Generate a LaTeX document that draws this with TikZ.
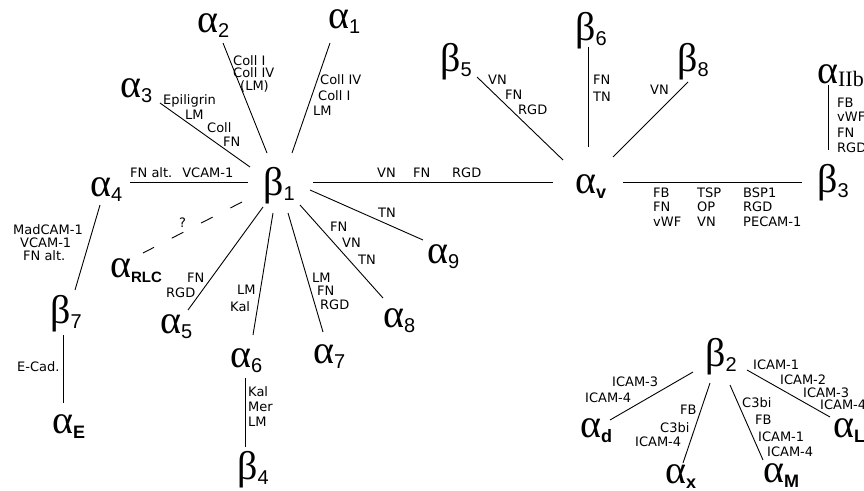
\documentclass[tikz,border=0pt]{standalone}
\usepackage{fontspec}
\newfontfamily\grfont{Liberation Serif}
\newfontfamily\subsans{Liberation Sans}
\newfontfamily\labfamily{DejaVu Sans}
% Greek letter with a plain sans subscript
\newcommand\GkN[2]{{\grfont\fontsize{40}{40}\selectfont #1}\raisebox{-5pt}{\subsans\fontsize{20}{20}\selectfont #2}}
% Greek letter with a bold sans subscript
\newcommand\GkB[3][18]{{\grfont\fontsize{40}{40}\selectfont #2}\raisebox{-5pt}{\subsans\bfseries\fontsize{#1}{#1}\selectfont #3}}
% Greek letter with a serif subscript
\newcommand\GkS[2]{{\grfont\fontsize{40}{40}\selectfont #1}\raisebox{-3pt}{\grfont\fontsize{22}{22}\selectfont #2}}
\tikzset{
  greek/.style={anchor=base west, inner sep=0pt},
  lab/.style={anchor=west, inner sep=0pt, text height=9pt, text depth=0pt,
              font=\labfamily\fontsize{13}{13}\selectfont},
  link/.style={line width=0.9pt},
  unsure/.style={line width=0.9pt, dash pattern=on 13pt off 20pt}
}
\begin{document}
\begin{tikzpicture}[x=1pt,y=-1pt]
\useasboundingbox (0,0) rectangle (864,490);
\clip (0,0) rectangle (864,490);
\fill[white] (0,0) rectangle (864,490);

% ---------- subunits ----------
\node[greek] (b1) at (263,195) {\GkN{β}{1}};
\node[greek] (a1) at (328,28) {\GkN{α}{1}};
\node[greek] (a2) at (197,32) {\GkN{α}{2}};
\node[greek] (a3) at (120,97) {\GkN{α}{3}};
\node[greek] (a4) at (90,196) {\GkN{α}{4}};
\node[greek] (arlc) at (110,277) {\GkB[15]{α}{RLC}};
\node[greek] (a5) at (160,333) {\GkN{α}{5}};
\node[greek] (a6) at (230,367) {\GkN{α}{6}};
\node[greek] (a7) at (313,363) {\GkN{α}{7}};
\node[greek] (a8) at (383,327) {\GkN{α}{8}};
\node[greek] (a9) at (427,263) {\GkN{α}{9}};
\node[greek] (b4) at (237,479) {\GkN{β}{4}};
\node[greek] (b7) at (50,323) {\GkN{β}{7}};
\node[greek] (ae) at (52,433) {\GkB{α}{E}};
\node[greek] (av) at (575,193) {\GkB{α}{v}};
\node[greek] (b5) at (440,71) {\GkN{β}{5}};
\node[greek] (b6) at (575,40) {\GkN{β}{6}};
\node[greek] (b8) at (677,71) {\GkN{β}{8}};
\node[greek] (b3) at (817,192) {\GkN{β}{3}};
\node[greek] (aiib) at (817,83) {\GkS{α}{IIb}};
\node[greek] (b2) at (705,366) {\GkN{β}{2}};
\node[greek] (ad) at (580,437) {\GkB{α}{d}};
\node[greek] (ax) at (665,483) {\GkB{α}{x}};
\node[greek] (am) at (763,482) {\GkB{α}{M}};
\node[greek] (al) at (833,437) {\GkB{α}{L}};

% ---------- line ends ----------
\coordinate (b1-a2) at (267,153); \coordinate (a2-b1) at (223,43);
\coordinate (b1-a3) at (250,167); \coordinate (a3-b1) at (160,103);
\coordinate (b1-a4) at (248,182); \coordinate (a4-b1) at (130,182);
\coordinate (b1-a1) at (292,153); \coordinate (a1-b1) at (330,43);
\coordinate (b1-av) at (313,182); \coordinate (av-b1) at (553,182);
\coordinate (b1-a9) at (310,190); \coordinate (a9-b1) at (423,240);
\coordinate (b1-a8) at (300,205); \coordinate (a8-b1) at (383,298);
\coordinate (b1-a7) at (288,213); \coordinate (a7-b1) at (323,332);
\coordinate (b1-a6) at (273,213); \coordinate (a6-b1) at (253,335);
\coordinate (b1-a5) at (263,207); \coordinate (a5-b1) at (188,310);
\coordinate (b1-arlc) at (242,202); \coordinate (arlc-b1) at (143,253);
\coordinate (a4-b7) at (100,205); \coordinate (b7-a4) at (75,290);
\coordinate (b7-ae) at (63,335); \coordinate (ae-b7) at (63,403);
\coordinate (a6-b4) at (245,378); \coordinate (b4-a6) at (245,447);
\coordinate (b5-av) at (477,77); \coordinate (av-b5) at (563,160);
\coordinate (b6-av) at (588,47); \coordinate (av-b6) at (588,147);
\coordinate (b8-av) at (688,82); \coordinate (av-b8) at (613,157);
\coordinate (av-b3) at (623,182); \coordinate (b3-av) at (802,182);
\coordinate (aiib-b3) at (828,85); \coordinate (b3-aiib) at (828,150);
\coordinate (b2-ad) at (693,372); \coordinate (ad-b2) at (610,420);
\coordinate (b2-ax) at (710,383); \coordinate (ax-b2) at (683,463);
\coordinate (b2-am) at (730,385); \coordinate (am-b2) at (763,460);
\coordinate (b2-al) at (747,370); \coordinate (al-b2) at (830,417);

% ---------- connectors ----------
\draw[link] (b1-a2) -- (a2-b1);
\draw[link] (b1-a3) -- (a3-b1);
\draw[link] (b1-a4) -- (a4-b1);
\draw[link] (b1-a1) -- (a1-b1);
\draw[link] (b1-av) -- (av-b1);
\draw[link] (b1-a9) -- (a9-b1);
\draw[link] (b1-a8) -- (a8-b1);
\draw[link] (b1-a7) -- (a7-b1);
\draw[link] (b1-a6) -- (a6-b1);
\draw[link] (b1-a5) -- (a5-b1);
\draw[unsure] (b1-arlc) -- (arlc-b1);
\draw[link] (a4-b7) -- (b7-a4);
\draw[link] (b7-ae) -- (ae-b7);
\draw[link] (a6-b4) -- (b4-a6);
\draw[link] (b5-av) -- (av-b5);
\draw[link] (b6-av) -- (av-b6);
\draw[link] (b8-av) -- (av-b8);
\draw[link] (av-b3) -- (b3-av);
\draw[link] (aiib-b3) -- (b3-aiib);
\draw[link] (b2-ad) -- (ad-b2);
\draw[link] (b2-ax) -- (ax-b2);
\draw[link] (b2-am) -- (am-b2);
\draw[link] (b2-al) -- (al-b2);

% ---------- ligand labels ----------
% beta1 family
\node[lab] (l1) at (233,61) {Coll I};
\node[lab] (l2) at (233,73) {Coll IV};
\node[lab] (l3) at (240,86) {(LM)};
\node[lab] (l4) at (163,100) {Epiligrin};
\node[lab] (l5) at (185,115) {LM};
\node[lab] (l6) at (207,128) {Coll};
\node[lab] (l7) at (223,142) {FN};
\node[lab] (l8) at (130,173) {FN alt.\hspace{10pt}VCAM-1};
\node[lab] (l9) at (320,80) {Coll IV};
\node[lab] (l10) at (318,96) {Coll I};
\node[lab] (l11) at (313,111) {LM};
\node[lab] (l12) at (377,173) {VN};
\node[lab] (l13) at (413,173) {FN};
\node[lab] (l14) at (452,173) {RGD};
\node[lab] (l15) at (378,213) {TN};
\node[lab] (l16) at (330,227) {FN};
\node[lab] (l17) at (342,243) {VN};
\node[lab] (l18) at (358,260) {TN};
\node[lab] (l19) at (312,278) {LM};
\node[lab] (l20) at (317,291) {FN};
\node[lab] (l21) at (320,305) {RGD};
\node[lab] (l22) at (237,290) {LM};
\node[lab] (l23) at (230,307) {Kal};
\node[lab] (l24) at (187,278) {FN};
\node[lab] (l25) at (166,293) {RGD};
\node[lab] (l26) at (179,223) {?};
\node[lab] (l27) at (248,392) {Kal};
\node[lab] (l28) at (248,407) {Mer};
\node[lab] (l29) at (248,422) {LM};
\node[lab] (l30) at (13,230) {MadCAM-1};
\node[lab] (l31) at (20,243) {VCAM-1};
\node[lab] (l32) at (23,256) {FN alt.};
\node[lab] (l33) at (17,367) {E-Cad.};
% alpha v family
\node[lab] (l34) at (488,80) {VN};
\node[lab] (l35) at (505,95) {FN};
\node[lab] (l36) at (518,110) {RGD};
\node[lab] (l37) at (593,80) {FN};
\node[lab] (l38) at (593,97) {TN};
\node[lab] (l39) at (650,90) {VN};
\node[lab] (l40) at (837,103) {FB};
\node[lab] (l41) at (837,117) {vWF};
\node[lab] (l42) at (837,133) {FN};
\node[lab] (l43) at (837,148) {RGD};
\node[lab] (l44) at (653,193) {FB};
\node[lab] (l45) at (653,207) {FN};
\node[lab] (l46) at (653,222) {vWF};
\node[lab] (l47) at (697,193) {TSP};
\node[lab] (l48) at (697,207) {OP};
\node[lab] (l49) at (697,222) {VN};
\node[lab] (l50) at (743,193) {BSP1};
\node[lab] (l51) at (743,207) {RGD};
\node[lab] (l52) at (743,222) {PECAM-1};
% beta2 family
\node[lab] (l53) at (612,382) {ICAM-3};
\node[lab] (l54) at (585,398) {ICAM-4};
\node[lab] (l55) at (680,410) {FB};
\node[lab] (l56) at (660,428) {C3bi};
\node[lab] (l57) at (635,442) {ICAM-4};
\node[lab] (l58) at (742,403) {C3bi};
\node[lab] (l59) at (755,420) {FB};
\node[lab] (l60) at (758,437) {ICAM-1};
\node[lab] (l61) at (767,452) {ICAM-4};
\node[lab] (l62) at (753,365) {ICAM-1};
\node[lab] (l63) at (780,380) {ICAM-2};
\node[lab] (l64) at (803,393) {ICAM-3};
\node[lab] (l65) at (820,405) {ICAM-4};
\end{tikzpicture}
\end{document}
